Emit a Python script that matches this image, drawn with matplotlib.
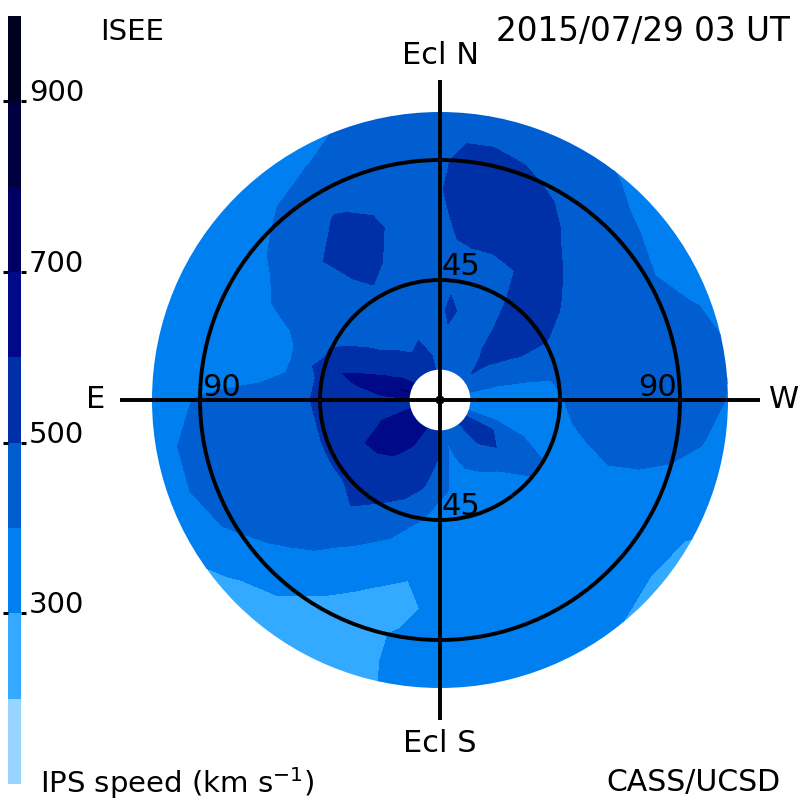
import numpy as np
import matplotlib
matplotlib.use("Agg")
import matplotlib.pyplot as plt
from matplotlib.patches import Circle

# elongation of each grid ring (deg)
elong = [9, 22, 34, 45, 56, 68, 79, 90, 101, 113]

# position angle of each ray, clockwise from Ecl N on the picture (deg)
angles = [0, 6, 12, 20, 30, 40, 50, 60, 70, 80, 90, 100, 110, 120, 130, 140, 150, 160, 170, 180,
          190, 200, 210, 220, 230, 240, 250, 260, 270, 280, 285, 290, 295, 300, 310, 320, 330, 340, 350]

# IPS speed in km/s, one row per ray, one column per ring
speed = [
    [440, 440, 460, 450, 450, 460, 490, 480, 430, 410],
    [450, 460, 530, 470, 480, 530, 560, 530, 480, 420],
    [450, 460, 490, 480, 490, 545, 570, 550, 470, 420],
    [440, 450, 465, 475, 490, 540, 565, 520, 460, 420],
    [440, 445, 460, 475, 500, 550, 530, 480, 440, 405],
    [470, 495, 520, 545, 550, 510, 470, 440, 410, 385],
    [490, 510, 545, 540, 510, 475, 450, 425, 390, 360],
    [455, 480, 505, 505, 480, 465, 445, 410, 375, 345],
    [430, 440, 470, 470, 460, 450, 440, 425, 405, 380],
    [370, 375, 385, 405, 430, 450, 450, 440, 420, 395],
    [360, 360, 370, 395, 430, 455, 460, 450, 425, 375],
    [350, 360, 370, 385, 415, 450, 455, 430, 395, 360],
    [400, 400, 370, 370, 385, 405, 395, 375, 355, 330],
    [490, 505, 450, 395, 375, 360, 350, 340, 310, 285],
    [525, 525, 470, 395, 370, 355, 345, 330, 306, 270],
    [510, 495, 402, 375, 365, 350, 340, 330, 318, 285],
    [450, 430, 390, 365, 355, 345, 340, 335, 330, 320],
    [420, 415, 380, 365, 355, 350, 345, 345, 340, 330],
    [420, 385, 392, 375, 355, 350, 345, 340, 340, 335],
    [540, 490, 410, 380, 360, 340, 335, 330, 330, 330],
    [570, 545, 495, 405, 365, 302, 272, 310, 315, 310],
    [590, 575, 530, 470, 395, 325, 285, 270, 265, 260],
    [640, 590, 545, 498, 440, 370, 320, 280, 260, 245],
    [660, 620, 575, 525, 485, 425, 375, 320, 280, 255],
    [680, 640, 585, 505, 480, 455, 420, 370, 305, 280],
    [680, 630, 595, 505, 480, 470, 450, 420, 370, 305],
    [650, 605, 560, 505, 480, 470, 465, 440, 395, 360],
    [560, 540, 520, 505, 480, 475, 470, 445, 395, 360],
    [590, 570, 545, 510, 480, 460, 430, 408, 380, 350],
    [650, 640, 590, 525, 415, 350, 340, 340, 335, 325],
    [720, 680, 620, 560, 410, 345, 335, 335, 330, 325],
    [640, 625, 575, 510, 410, 355, 340, 335, 330, 320],
    [640, 595, 550, 505, 425, 375, 345, 340, 335, 325],
    [640, 570, 525, 480, 465, 420, 375, 350, 340, 325],
    [570, 525, 480, 470, 460, 440, 415, 385, 360, 335],
    [550, 505, 475, 470, 480, 500, 460, 415, 380, 350],
    [540, 495, 470, 480, 525, 545, 505, 450, 398, 370],
    [540, 505, 470, 465, 490, 510, 490, 450, 425, 395],
    [530, 480, 460, 455, 455, 460, 460, 440, 420, 405],
]

levels = [100, 200, 300, 400, 500, 600, 700, 800, 900, 1000]
band_colors = ["#99d3ff", "#33a9ff", "#0080f0", "#005ed0", "#0030a8",
               "#000a88", "#000062", "#000040", "#000020"]
bar_ticks = [300, 500, 700, 900]
rings = [45, 90]

plt.rcParams["font.family"] = "DejaVu Sans"

fig = plt.figure(figsize=(8, 8), dpi=100)

# main map, axes fill the whole figure and data units are degrees
ax = fig.add_axes([0, 0, 1, 1])
ax.set_xlim(-165, 135)
ax.set_ylim(-150, 150)
ax.axis("off")

pa = np.radians(angles + [360])
el = np.array(elong, dtype=float)
grid = np.array(speed + [speed[0]], dtype=float)
X = np.sin(pa)[:, None] * el[None, :]
Y = np.cos(pa)[:, None] * el[None, :]

cs = ax.contourf(X, Y, grid, levels=levels, colors=band_colors, antialiased=False)
edge = Circle((0, 0), 108, transform=ax.transData)
cs.set_clip_path(edge)

ax.add_patch(Circle((0, 0), 11.4, fc="white", ec="none", zorder=3))

for r in rings:
    ax.add_patch(Circle((0, 0), r, fc="none", ec="black", lw=2.8, zorder=4))
ax.plot([-120, 120], [0, 0], color="black", lw=2.8, zorder=4, solid_capstyle="butt")
ax.plot([0, 0], [-120, 120], color="black", lw=2.8, zorder=4, solid_capstyle="butt")
ax.add_patch(Circle((0, 0), 1.7, fc="black", ec="none", zorder=5))

fs = 22
ax.text(-82, 4.5, "90", fontsize=fs, ha="center", va="center", zorder=6)
ax.text(81.5, 4.5, "90", fontsize=fs, ha="center", va="center", zorder=6)
ax.text(8, 50, "45", fontsize=fs, ha="center", va="center", zorder=6)
ax.text(8, -40, "45", fontsize=fs, ha="center", va="center", zorder=6)
ax.text(-129, 0, "E", fontsize=fs, ha="center", va="center")
ax.text(129, 0, "W", fontsize=fs, ha="center", va="center")
ax.text(0, 129, "Ecl N", fontsize=fs, ha="center", va="center")
ax.text(0, -129, "Ecl S", fontsize=fs, ha="center", va="center")

fig.text(100 / 800, 1 - 32 / 800, "ISEE", fontsize=21, ha="left", va="center")
fig.text(790 / 800, 1 - 31 / 800, "2015/07/29 03 UT", fontsize=23.5, ha="right", va="center")
# baseline placed so the superscript text stays inside the figure
fig.text(40 / 800, 1 - 793 / 800, "IPS speed (km s$^{-1}$)", fontsize=21, ha="left", va="baseline")
fig.text(780 / 800, 1 - 783 / 800, "CASS/UCSD", fontsize=21.5, ha="right", va="center")

# colour bar
cax = fig.add_axes([8 / 800, 16 / 800, 13 / 800, 768 / 800])
cax.pcolormesh([0, 1], levels, np.arange(len(band_colors))[:, None],
               cmap=matplotlib.colors.ListedColormap(band_colors), antialiased=False)
cax.set_ylim(100, 1000)
cax.set_xticks([])
cax.set_yticks(bar_ticks)
cax.set_yticklabels([])
cax.tick_params(axis="y", left=True, right=True, length=3.6, width=2.2, color="black")
for s in cax.spines.values():
    s.set_visible(False)
for v in bar_ticks:
    cax.text(1.6, v, str(v), transform=cax.get_yaxis_transform(), fontsize=21,
             ha="left", va="baseline")

fig.savefig("out.png", dpi=100)
